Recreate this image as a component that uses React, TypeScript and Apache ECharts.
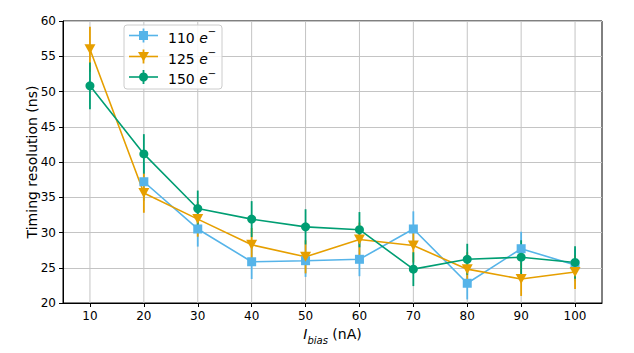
import React, { useEffect, useRef } from "react";
import * as echarts from "echarts";

const biasCurrents = [10, 20, 30, 40, 50, 60, 70, 80, 90, 100];
const seriesNames = ["110", "125", "150"];
const values110: (number | null)[] = [null, 37.2, 30.5, 25.85, 26.0, 26.2, 30.5, 22.8, 27.7, 25.4];
const errors110: (number | null)[] = [null, 2.7, 2.5, 2.45, 2.3, 2.4, 2.5, 2.3, 2.4, 2.3];
const values125 = [56.0, 35.6, 31.9, 28.25, 26.55, 29.0, 28.15, 24.8, 23.4, 24.4];
const errors125 = [3.2, 2.8, 2.5, 2.4, 2.35, 2.4, 2.4, 2.4, 2.4, 2.4];
const values150 = [50.8, 41.15, 33.4, 31.9, 30.8, 30.4, 24.8, 26.2, 26.5, 25.75];
const errors150 = [3.3, 2.8, 2.55, 2.55, 2.5, 2.5, 2.4, 2.2, 2.4, 2.3];

const colors = ["#56B4E9", "#E69F00", "#009E73"];
const symbols = ["rect", "path://M0,0 L10,0 L5,9 Z", "circle"];
const symbolSizes = [9, 10, 9];
const FONT = "DejaVu Sans";

export default function App() {
  const ref = useRef<HTMLDivElement>(null);
  useEffect(() => {
    if (!ref.current) return;
    const chart = echarts.init(ref.current, null, { renderer: "svg" });
    const vals = [values110, values125, values150];
    const errs = [errors110, errors125, errors150];
    const series: any[] = [];
    vals.forEach((v, i) => {
      const errData = biasCurrents
        .map((x, j) => (v[j] == null ? null : [x, v[j], errs[i][j]]))
        .filter((d) => d != null);
      series.push({
        type: "custom",
        name: seriesNames[i] + "_err",
        data: errData,
        encode: { x: 0, y: 1 },
        renderItem: (params: any, api: any) => {
          const x = api.value(0);
          const y = api.value(1);
          const e = api.value(2);
          const p1 = api.coord([x, y - e]);
          const p2 = api.coord([x, y + e]);
          return {
            type: "line",
            shape: { x1: p1[0], y1: p1[1], x2: p2[0], y2: p2[1] },
            style: { stroke: colors[i], lineWidth: 1.8 },
          };
        },
        silent: true,
      });
      series.push({
        type: "line",
        name: seriesNames[i],
        data: biasCurrents.map((x, j) => (v[j] == null ? null : [x, v[j]])).filter((d) => d != null),
        symbol: symbols[i],
        symbolSize: i === 1 ? [11, 10] : symbolSizes[i],
        showAllSymbol: true,
        itemStyle: { color: colors[i] },
        lineStyle: { color: colors[i], width: 1.6 },
        emphasis: { disabled: true },
      });
    });

    const legendRows = [35.5, 56.5, 77];
    const legendGraphics: any[] = [
      {
        type: "rect",
        shape: { x: 124, y: 25, width: 98, height: 64, r: 3 },
        style: { fill: "rgba(255,255,255,0.85)", stroke: "#cccccc", lineWidth: 1 },
        z: 100,
      },
    ];
    legendRows.forEach((yy, i) => {
      legendGraphics.push({
        type: "line",
        shape: { x1: 129, y1: yy, x2: 158, y2: yy },
        style: { stroke: colors[i], lineWidth: 1.6 },
        z: 101,
      });
      legendGraphics.push({
        type: "line",
        shape: { x1: 143.5, y1: yy - 7, x2: 143.5, y2: yy + 7 },
        style: { stroke: colors[i], lineWidth: 1.8 },
        z: 101,
      });
      if (i === 0) {
        legendGraphics.push({
          type: "rect",
          shape: { x: 139, y: yy - 4.5, width: 9, height: 9 },
          style: { fill: colors[i] },
          z: 102,
        });
      } else if (i === 1) {
        legendGraphics.push({
          type: "polygon",
          shape: { points: [[138, yy - 4.5], [149, yy - 4.5], [143.5, yy + 5]] },
          style: { fill: colors[i] },
          z: 102,
        });
      } else {
        legendGraphics.push({
          type: "circle",
          shape: { cx: 143.5, cy: yy, r: 4.5 },
          style: { fill: colors[i] },
          z: 102,
        });
      }
      legendGraphics.push({
        type: "text",
        x: 168,
        y: yy,
        style: {
          text: "{n|" + seriesNames[i] + " }{e|e}{s|−}",
          verticalAlign: "middle",
          rich: {
            n: { fontFamily: FONT, fontSize: 14, fill: "#000", lineHeight: 18, verticalAlign: "bottom" },
            e: { fontFamily: FONT, fontSize: 14, fontStyle: "italic", fill: "#000", lineHeight: 18, verticalAlign: "bottom" },
            s: { fontFamily: FONT, fontSize: 10, fill: "#000", lineHeight: 18, verticalAlign: "top", padding: [0, 0, 6, 0] },
          },
        },
        z: 102,
      });
    });

    chart.setOption({
      animation: false,
      backgroundColor: "#ffffff",
      textStyle: { fontFamily: FONT },
      grid: {
        left: 63,
        right: 32,
        top: 21,
        bottom: 50,
        show: true,
        borderColor: "#000000",
        borderWidth: 1,
        backgroundColor: "transparent",
        containLabel: false,
      },
      xAxis: {
        type: "value",
        min: 5,
        max: 105,
        interval: 10,
        axisLabel: {
          color: "#000",
          fontSize: 12,
          fontFamily: FONT,
          margin: 7,
          customValues: biasCurrents,
          formatter: (v: number) => String(v),
        },
        axisTick: { show: true, length: 4, lineStyle: { color: "#000" }, customValues: biasCurrents },
        axisLine: { show: true, onZero: false, lineStyle: { color: "#000", width: 1 } },
        splitLine: { show: false },
        name: "{i|I}{b|bias}{n| (nA)}",
        nameLocation: "middle",
        nameGap: 24,
        nameMoveOverlap: false,
        nameTextStyle: {
          rich: {
            i: { fontFamily: FONT, fontSize: 14, fontStyle: "italic", color: "#000", lineHeight: 18, verticalAlign: "top" },
            b: { fontFamily: FONT, fontSize: 10, fontStyle: "italic", color: "#000", lineHeight: 18, verticalAlign: "bottom", padding: [6, 0, 0, 0] },
            n: { fontFamily: FONT, fontSize: 14, color: "#000", lineHeight: 18, verticalAlign: "top" },
          },
        },
      },
      yAxis: {
        type: "value",
        min: 20,
        max: 60,
        interval: 5,
        axisLabel: { color: "#000", fontSize: 12, fontFamily: FONT, margin: 7 },
        axisTick: { show: true, length: 4, lineStyle: { color: "#000" } },
        axisLine: { show: true, lineStyle: { color: "#000", width: 1 } },
        splitLine: { show: true, lineStyle: { color: "#c4c4c4", width: 1 } },
        name: "Timing resolution (ns)",
        nameLocation: "middle",
        nameGap: 24,
        nameMoveOverlap: false,
        nameTextStyle: { fontFamily: FONT, fontSize: 14, color: "#000" },
      },
      series: [
        {
          type: "custom",
          name: "xgrid",
          silent: true,
          data: biasCurrents.map((x) => [x]),
          renderItem: (params: any, api: any) => {
            const top = api.coord([api.value(0), 60]);
            const bot = api.coord([api.value(0), 20]);
            return {
              type: "line",
              shape: { x1: top[0], y1: top[1], x2: bot[0], y2: bot[1] },
              style: { stroke: "#c4c4c4", lineWidth: 1 },
            };
          },
          encode: { x: 0 },
          z: 1,
        },
        ...series.map((s) => ({ ...s, z: 2 })),
      ],
      graphic: legendGraphics,
    });
    return () => chart.dispose();
  }, []);
  return <div ref={ref} style={{ position: "absolute", left: 0, top: 0, width: 634, height: 353 }} />;
}
